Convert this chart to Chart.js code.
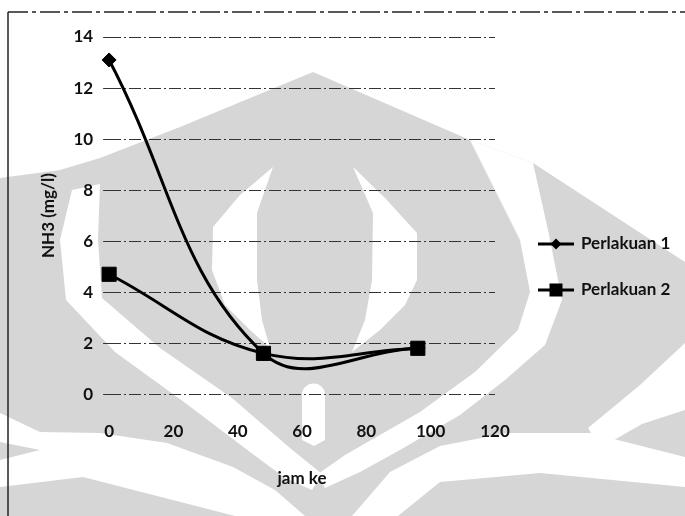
<!DOCTYPE html>
<html>
<head>
<meta charset="utf-8">
<script src="https://cdn.jsdelivr.net/npm/chart.js@4.4.1/dist/chart.umd.min.js"></script>
<style>
  html, body { margin: 0; padding: 0; background: #fff; }
  canvas { display: block; }
</style>
</head>
<body>
<canvas id="c" width="685" height="516"></canvas>
<script>
// Sampling hours and NH3 concentration (mg/l) for each treatment
const jamKe = [0, 48, 96];
const perlakuan1 = [13.1, 1.6, 1.8];
const perlakuan2 = [4.7, 1.6, 1.8];
const seriesNames = ['Perlakuan 1', 'Perlakuan 2'];
const xTicks = [0, 20, 40, 60, 80, 100, 120];
const yTicks = [0, 2, 4, 6, 8, 10, 12, 14];

const INK = '#111';
const SHADE = '#d6d6d6';
const FONT = { family: "Lato, 'Open Sans', sans-serif", size: 17, weight: 'bold' };

function poly(ctx, pts, color) {
  ctx.beginPath();
  ctx.moveTo(pts[0][0], pts[0][1]);
  for (let i = 1; i < pts.length; i++) ctx.lineTo(pts[i][0], pts[i][1]);
  ctx.closePath();
  ctx.fillStyle = color;
  ctx.fill();
}

// Pale emblem printed behind the figure on the page
function drawEmblem(ctx) {
  ctx.save();
  poly(ctx, [[0,178],[60,170],[100,158],[180,127],[313,72],[470,140],[533,163],[685,262],[685,516],[0,516]], SHADE);
  // right opening and outer arc
  poly(ctx, [[470,140],[533,163],[548,230],[562,300],[545,345],[505,380],[460,415],[400,450],[360,472],[325,488],
             [318,474],[345,455],[420,412],[475,372],[518,330],[530,292],[520,240],[495,190]], '#fff');
  // left outer arc
  poly(ctx, [[72,190],[100,184],[98,240],[102,298],[160,348],[232,398],[290,448],[322,474],[312,490],
             [285,478],[250,452],[188,405],[115,352],[66,300],[60,240]], '#fff');
  // inner crescents
  poly(ctx, [[273,167],[240,195],[213,227],[212,270],[225,305],[250,330],[270,348],[262,320],[257,280],[257,213]], '#fff');
  poly(ctx, [[353,167],[385,198],[417,233],[417,280],[405,305],[380,330],[352,352],[365,320],[372,280],[373,213]], '#fff');
  // centre stem
  ctx.beginPath();
  ctx.moveTo(302, 395);
  ctx.arc(313.5, 395, 11.5, Math.PI, 0);
  ctx.lineTo(325, 440);
  ctx.lineTo(314, 446);
  ctx.lineTo(302, 440);
  ctx.closePath();
  ctx.fillStyle = '#fff';
  ctx.fill();
  // lower bands
  poly(ctx, [[0,413],[40,432],[100,433],[167,443],[233,467],[275,490],[305,516],[235,516],[200,507],[83,477],[0,487]], '#fff');
  poly(ctx, [[0,442],[40,450],[0,460]], SHADE);
  poly(ctx, [[352,516],[390,472],[440,446],[507,433],[590,433],[685,457],[685,487],[540,473],[440,482],[398,516]], '#fff');
  poly(ctx, [[685,343],[640,385],[588,428],[600,448],[642,424],[685,410]], '#fff');
  ctx.restore();
}

const backdrop = {
  id: 'backdrop',
  beforeDraw(chart) {
    const ctx = chart.ctx;
    drawEmblem(ctx);
    // frame of the chart object
    ctx.save();
    ctx.strokeStyle = '#222';
    ctx.lineWidth = 1.5;
    ctx.beginPath();
    ctx.moveTo(8, 516);
    ctx.lineTo(8, 12);
    ctx.stroke();
    ctx.setLineDash([20, 4, 4, 4]);
    ctx.beginPath();
    ctx.moveTo(8, 12);
    ctx.lineTo(685, 12);
    ctx.stroke();
    ctx.restore();
  }
};

// Legend entries: line with the series marker, then the series name
function swatch(kind) {
  const c = document.createElement('canvas');
  c.width = 36; c.height = 16;
  const g = c.getContext('2d');
  g.strokeStyle = '#000';
  g.lineWidth = 3;
  g.beginPath(); g.moveTo(0, 8); g.lineTo(36, 8); g.stroke();
  g.fillStyle = '#000';
  if (kind === 'rectRot') {
    g.beginPath(); g.moveTo(18, 2.5); g.lineTo(23.5, 8); g.lineTo(18, 13.5); g.lineTo(12.5, 8); g.closePath(); g.fill();
  } else {
    g.fillRect(11.5, 1.5, 13, 13);
  }
  return c;
}

const sideLegend = {
  id: 'sideLegend',
  afterDraw(chart) {
    const ctx = chart.ctx;
    const area = chart.chartArea;
    const x0 = area.right + 43;
    const midY = (area.top + area.bottom) / 2 + 51;
    const gap = 46;
    ctx.save();
    ctx.font = `${FONT.weight} ${FONT.size}px ${FONT.family}`;
    ctx.fillStyle = INK;
    ctx.textBaseline = 'middle';
    chart.data.datasets.forEach((ds, i) => {
      const y = midY + (i - (chart.data.datasets.length - 1) / 2) * gap;
      const img = swatch(ds.pointStyle);
      ctx.drawImage(img, x0, Math.round(y - img.height / 2));
      ctx.fillText(ds.label, x0 + img.width + 7, y);
    });
    ctx.restore();
  }
};

const toPoints = ys => jamKe.map((x, i) => ({ x, y: ys[i] }));

new Chart(document.getElementById('c'), {
  type: 'line',
  data: {
    datasets: [
      {
        label: seriesNames[0],
        data: toPoints(perlakuan1),
        borderColor: '#000', backgroundColor: '#000',
        borderWidth: 3, tension: 0.4, clip: false,
        pointStyle: 'rectRot', pointRadius: 7, pointBorderWidth: 1
      },
      {
        label: seriesNames[1],
        data: toPoints(perlakuan2),
        borderColor: '#000', backgroundColor: '#000',
        borderWidth: 3, tension: 0.4, clip: false,
        pointStyle: 'rect', pointRadius: 10, pointBorderWidth: 1
      }
    ]
  },
  options: {
    responsive: false,
    animation: false,
    devicePixelRatio: 1,
    events: [],
    layout: { padding: { left: 38, top: 37, right: 190, bottom: 27 } },
    scales: {
      x: {
        type: 'linear', min: 0, max: 120,
        afterBuildTicks: axis => { axis.ticks = xTicks.map(v => ({ value: v })); },
        ticks: { color: INK, font: FONT, padding: 27, maxRotation: 0 },
        grid: { display: false, drawTicks: false },
        border: { display: false },
        title: { display: true, text: 'jam ke', color: INK, font: FONT, padding: { top: 0, bottom: 0 } }
      },
      y: {
        min: 0, max: 14,
        afterBuildTicks: axis => { axis.ticks = yTicks.map(v => ({ value: v })); },
        ticks: { color: INK, font: FONT, padding: 10 },
        grid: { color: '#333', lineWidth: 1, drawTicks: true, tickLength: 6 },
        border: { display: false, dash: [12, 3, 2, 3] },
        title: { display: true, text: 'NH3 (mg/l)', color: INK, font: FONT, padding: { top: 0, bottom: 5 } }
      }
    },
    plugins: {
      tooltip: { enabled: false },
      legend: { display: false }
    }
  },
  plugins: [backdrop, sideLegend]
});
</script>
</body>
</html>
